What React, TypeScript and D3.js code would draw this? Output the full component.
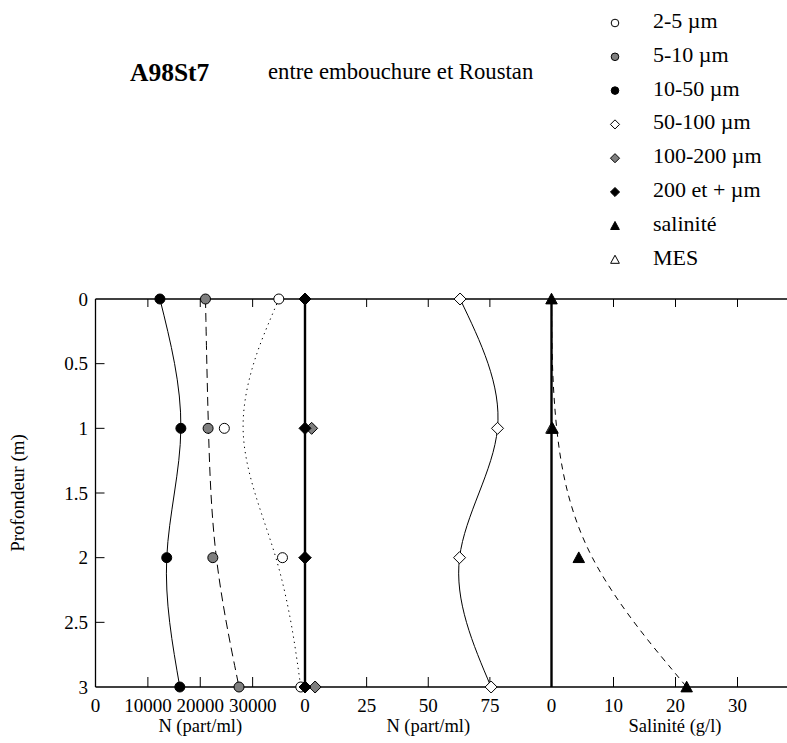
import React from "react";
import * as d3 from "d3";

const depths = [0, 1, 2, 3];
const n2to5 = [35000, 24600, 35700, 39200];
const n5to10 = [21000, 21500, 22400, 27400];
const n10to50 = [12300, 16300, 13600, 16100];
const n50to100 = [62.9, 78.1, 62.7, 75.5];
const n100to200 = [0, 2.7, 0, 4.1];
const n200plus = [0, 0, 0, 0];
const salinity = [0, 0.16, 4.4, 21.8];
const mes: (number | null)[] = [null, 0, null, null];

const depthTicks = [0, 0.5, 1, 1.5, 2, 2.5, 3];
const ticks1 = [0, 10000, 20000, 30000];
const ticks2 = [0, 25, 50, 75];
const ticks3 = [0, 10, 20, 30];

const legendLabels = [
  "2-5 \u00b5m",
  "5-10 \u00b5m",
  "10-50 \u00b5m",
  "50-100 \u00b5m",
  "100-200 \u00b5m",
  "200 et + \u00b5m",
  "salinit\u00e9",
  "MES",
];

const FONT = "Liberation Serif, Times New Roman, Times, DejaVu Serif, serif";
const GRAY = "#7f7f7f";

const W = 787;
const H = 743;
const top = 299;
const bottom = 687;
const x0 = 95.5;
const xB1 = 305;
const xB2 = 551.5;

const y = d3.scaleLinear().domain([0, 3]).range([top, bottom]);
const x1 = d3.scaleLinear().domain([0, 40000]).range([x0, xB1]);
const x2 = d3.scaleLinear().domain([0, 100]).range([xB1, xB2]);
const x3 = d3.scaleLinear().domain([0, 40]).range([xB2, 799.5]);

type Shape = "circle" | "diamond" | "triangle";

function Marker({ shape, cx, cy, fill, size }: { shape: Shape; cx: number; cy: number; fill: string; size: number }) {
  if (shape === "circle") {
    return <circle cx={cx} cy={cy} r={size} fill={fill} stroke="#000" strokeWidth={1} />;
  }
  if (shape === "diamond") {
    const s = size * 1.2;
    return (
      <path
        d={`M${cx},${cy - s}L${cx + s},${cy}L${cx},${cy + s}L${cx - s},${cy}Z`}
        fill={fill}
        stroke="#000"
        strokeWidth={1}
      />
    );
  }
  const s = size * 1.15;
  return (
    <path
      d={`M${cx},${cy - s}L${cx + s},${cy + s * 0.85}L${cx - s},${cy + s * 0.85}Z`}
      fill={fill}
      stroke="#000"
      strokeWidth={1}
    />
  );
}

function linePath(values: number[], xs: d3.ScaleLinear<number, number>, curve: d3.CurveFactory) {
  const pts: [number, number][] = values.map((v, i) => [xs(v), y(depths[i])]);
  return d3.line().curve(curve)(pts) || "";
}

export default function App() {
  const series = [
    { vals: n2to5, xs: x1, shape: "circle" as Shape, fill: "#fff" },
    { vals: n5to10, xs: x1, shape: "circle" as Shape, fill: GRAY },
    { vals: n10to50, xs: x1, shape: "circle" as Shape, fill: "#000" },
    { vals: n50to100, xs: x2, shape: "diamond" as Shape, fill: "#fff" },
    { vals: n100to200, xs: x2, shape: "diamond" as Shape, fill: GRAY },
    { vals: n200plus, xs: x2, shape: "diamond" as Shape, fill: "#000" },
    { vals: salinity, xs: x3, shape: "triangle" as Shape, fill: "#000" },
  ];
  const legendShapes: { shape: Shape; fill: string }[] = [
    { shape: "circle", fill: "#fff" },
    { shape: "circle", fill: GRAY },
    { shape: "circle", fill: "#000" },
    { shape: "diamond", fill: "#fff" },
    { shape: "diamond", fill: GRAY },
    { shape: "diamond", fill: "#000" },
    { shape: "triangle", fill: "#000" },
    { shape: "triangle", fill: "#fff" },
  ];

  const bottomTicks = [
    ...ticks1.map((t) => ({ x: x1(t), label: String(t), first: t === 0 })),
    ...ticks2.map((t) => ({ x: x2(t), label: String(t), first: t === 0 })),
    ...ticks3.map((t) => ({ x: x3(t), label: String(t), first: t === 0 })),
  ];

  return (
    <div style={{ position: "absolute", left: 0, top: 0 }}>
      <svg width={W} height={H} style={{ display: "block", background: "#fff" }} fontFamily={FONT}>
        {/* titles */}
        <text x={130} y={81} fontFamily={FONT} fontWeight="bold" fontSize={25.5}>
          A98St7
        </text>
        <text x={268} y={79} fontFamily={FONT} fontSize={22.7}>
          entre embouchure et Roustan
        </text>

        {/* legend */}
        {legendLabels.map((lab, i) => {
          const by = 28 + i * 33.8;
          return (
            <g key={lab}>
              <Marker shape={legendShapes[i].shape} cx={615} cy={by - 5} fill={legendShapes[i].fill} size={3.8} />
              <text x={653} y={by} fontFamily={FONT} fontSize={22}>
                {lab}
              </text>
            </g>
          );
        })}

        {/* frame */}
        <line x1={x0} x2={W} y1={top} y2={top} stroke="#000" strokeWidth={1.3} />
        <line x1={x0} x2={W} y1={bottom} y2={bottom} stroke="#000" strokeWidth={1.3} />
        <line x1={x0} x2={x0} y1={top} y2={bottom} stroke="#000" strokeWidth={1.3} />
        <line x1={xB1} x2={xB1} y1={top} y2={bottom} stroke="#000" strokeWidth={2.4} />
        <line x1={xB2} x2={xB2} y1={top} y2={bottom} stroke="#000" strokeWidth={2.4} />

        {/* y ticks */}
        {depthTicks.map((d) => (
          <g key={d}>
            {d > 0 && d < 3 && <line x1={x0} x2={x0 + 9} y1={y(d)} y2={y(d)} stroke="#000" strokeWidth={1} />}
            <text x={88} y={y(d) + 6.5} textAnchor="end" fontFamily={FONT} fontSize={19}>
              {d}
            </text>
          </g>
        ))}

        {/* x ticks */}
        {bottomTicks.map((t, i) => (
          <g key={i}>
            {!t.first && (
              <>
                <line x1={t.x} x2={t.x} y1={bottom} y2={bottom - 10} stroke="#000" strokeWidth={1} />
                <line x1={t.x} x2={t.x} y1={top} y2={top + 8} stroke="#000" strokeWidth={1} />
              </>
            )}
            <text x={t.x} y={712} textAnchor="middle" fontFamily={FONT} fontSize={19}>
              {t.label}
            </text>
          </g>
        ))}

        {/* axis titles */}
        <text x={(x0 + xB1) / 2} y={732} textAnchor="middle" fontFamily={FONT} fontSize={18.5}>
          N (part/ml)
        </text>
        <text x={(xB1 + xB2) / 2} y={732} textAnchor="middle" fontFamily={FONT} fontSize={18.5}>
          N (part/ml)
        </text>
        <text x={675} y={732} textAnchor="middle" fontFamily={FONT} fontSize={18.5}>
          Salinité (g/l)
        </text>
        <text
          transform={`translate(24,${(top + bottom) / 2}) rotate(-90)`}
          textAnchor="middle"
          fontFamily={FONT}
          fontSize={19}
        >
          Profondeur (m)
        </text>

        {/* lines */}
        <path d={linePath(n10to50, x1, d3.curveNatural)} fill="none" stroke="#000" strokeWidth={1} />
        <path d={linePath(n5to10, x1, d3.curveBasis)} fill="none" stroke="#000" strokeWidth={1} strokeDasharray="9,5" />
        <path d={linePath(n2to5, x1, d3.curveBasis)} fill="none" stroke="#000" strokeWidth={1} strokeDasharray="1.3,4" />
        <path d={linePath(n50to100, x2, d3.curveNatural)} fill="none" stroke="#000" strokeWidth={1} />
        <path d={linePath(n200plus, x2, d3.curveLinear)} fill="none" stroke="#000" strokeWidth={1} />
        <path d={linePath(salinity, x3, d3.curveBasis)} fill="none" stroke="#000" strokeWidth={1} strokeDasharray="6,5" />

        {/* markers */}
        {series.map((s, si) =>
          s.vals.map((v, i) => (
            <Marker key={`${si}-${i}`} shape={s.shape} cx={s.xs(v)} cy={y(depths[i])} fill={s.fill} size={5} />
          ))
        )}
        {mes.map((v, i) =>
          v == null ? null : (
            <Marker key={`mes-${i}`} shape="triangle" cx={x3(v)} cy={y(depths[i])} fill="none" size={5} />
          )
        )}
      </svg>
    </div>
  );
}
